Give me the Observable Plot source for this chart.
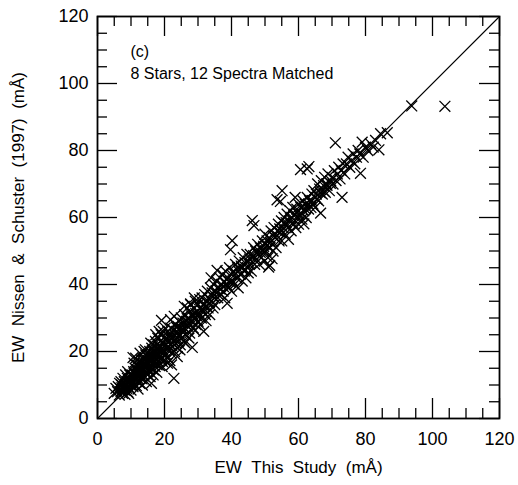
<!DOCTYPE html>
<html><head><meta charset="utf-8">
<script src="https://cdn.jsdelivr.net/npm/d3@7"></script>
<script src="https://cdn.jsdelivr.net/npm/@observablehq/plot@0.6"></script>
<style>body{margin:0;background:#fff}</style>
</head><body><div id="chart"></div>
<script>
// [EW this study, EW Nissen & Schuster 1997] in mÅ
const ewPairs = [
[5,7.5],[6,8],[6.5,7],[6.8,9],[7,8],[7.2,10],[7.5,7.5],[7.8,9],[8,8.5],[8,11],[8.2,7.2],[8.5,10],[8.7,9],[8.9,12],[9,8],[9.2,10.5],[9.4,11],[9.5,9],[9.6,13],[9.8,10],[10,8.5],[10,12],[6.2,9.5],[7,11],[7.6,12],[8.4,13],[9,14],[9.3,7.5],[5.5,9],[6.6,10.5],[7.4,8.5],[8.1,9.5],[8.8,10.8],[9.7,11.5],[10.6,18.2],
[10.2,10],[10.3,13],[10.5,11],[10.6,9.5],[10.8,14],[11,12],[11,10],[11.2,15],[11.3,11.5],[11.5,13],[11.6,9.8],[11.8,16],[12,12],[12,14.5],[12.2,11],[12.3,17],[12.5,13],[12.6,10.5],[12.8,15],[13,14],[13,12],[13.2,16.5],[13.3,11.8],[13.5,15],[13.6,13],[13.8,18],[14,14.5],[14,12.5],[14.2,16],[14.4,19],[14.5,13.5],[14.6,11],[14.8,17],[15,15],[15,13],[11.4,18],[12.7,19.5],[13.9,20],[12.1,8.8],[13.4,10],[14.3,20.5],[10.9,16.5],[11.9,13.2],[12.4,15.8],[13.1,17.5],[14.7,15.8],[14.9,18.5],[10.7,12.3],[11.7,14.2],[13.7,16.2],
[11.1,13.6],[12.9,12.8],[13.5,17.8],[14.1,15.2],[15.1,17.4],[16.4,20.2],[17.1,18.4],[17.8,19.6],[18.7,17.8],[19.9,22.4],[15.8,15.2],[16.9,16.6],[18.1,20.7],[19.4,20.9],[12.2,13.4],[10.1,11.4],[8.3,10.2],[9.1,9.6],[7.3,9.2],
[15.2,16],[15.3,18],[15.5,14],[15.6,20],[15.8,17],[16,15],[16,19],[16.1,10.5],[16.2,21],[16.4,16.5],[16.5,18.5],[16.7,14.5],[16.8,22],[17,17],[17,20],[17.2,15.5],[17.3,23],[17.5,18],[17.6,21],[17.8,16],[18,19],[18,24],[18.2,17],[18.3,21.5],[18.5,15.8],[18.6,20],[18.8,23],[19,18],[19,25],[19.1,29.3],[19.2,21],[19.4,17],[19.5,22.5],[19.7,19.5],[19.8,24],[20,20],[20,17.5],[15.7,12.5],[16.6,13],[17.4,25],[18.4,26],[15.9,22.5],[16.9,19.3],[17.9,22.3],[18.9,19.8],[19.6,26],[15.4,19],[16.3,17.6],[17.7,13.8],[19.3,15.5],
[20.3,22],[20.5,19],[20.6,24],[20.8,21],[21,26],[21,18],[21.2,23],[21.4,20.5],[21.5,25],[21.7,22],[21.9,27],[22,19.5],[22.2,24],[22.4,21.5],[22.5,26.5],[22.7,23],[22.8,12],[23,20],[23,25],[23.2,28],[23.4,22.5],[23.5,26],[23.7,24],[23.9,21],[24,27.5],[24.2,23],[24.4,29],[24.5,25],[24.7,22],[24.9,27],[25,24],[25,30],[20.2,27],[21.8,29.5],[22.9,30.5],[23.8,18.5],[24.6,20.5],[20.9,16.5],[21.6,17.3],[22.1,16],
[20.6,20.8],[21.3,24.4],[22.3,22.6],[23.1,23.6],[24.1,25.6],[25.6,26.6],[26.6,27.8],[27.1,28.8],[28.1,30.6],[29.3,31.4],[30.9,32.4],[31.6,33.8],[32.6,33.4],[33.4,34.6],[34.4,36.4],[35.6,37.4],[36.6,38.6],[37.6,39.4],[38.6,41.4],[39.6,40.6],[21.1,21.6],[23.6,27.2],[26.8,29.8],[30.2,30.8],
[25.3,26],[25.5,28.5],[25.7,23],[26,27],[26,31],[26.3,25],[26.5,29],[26.8,33],[27,27.5],[27.2,30],[27.5,25.5],[27.6,32],[27.8,34],[28,29],[28.3,21.2],[28.4,31],[28.6,27],[28.8,33],[29,30],[29.2,35],[29.4,28],[29.6,32],[29.8,30.5],[30,34],[30,29],[26.2,22.5],[27.3,24],[29.1,26.2],[25.9,33.5],[28.9,36],
[30.3,31.5],[30.5,35.5],[30.8,33],[31,30],[31.2,36],[31.5,32],[31.7,26],[31.8,34],[32,37],[32.2,31],[32.5,35],[32.8,38],[33,33],[33.2,36],[33.5,31],[33.7,39],[34,35],[34.2,37.5],[34.5,33],[34.7,40],[35,36],[35,34],[30.6,28],[32.4,29.2],[33.9,42],[27.8,34.2],
[35.3,38],[35.5,41],[35.7,44.2],[35.9,36],[36.2,39],[36.5,42],[36.8,37],[37,40],[37.3,43],[37.5,38],[37.8,41],[38,36],[38.2,44],[38.5,40],[38.7,34.4],[38.9,42],[39.2,39],[39.4,45],[39.7,50.4],[39.8,41],[40,43],[40,38],
[40.2,53.1],[40.4,41],[40.6,44],[40.9,40],[41.2,46],[41.5,42],[41.8,45],[42,39],[42.3,47],[42.6,43],[42.9,45.5],[43.2,41],[43.5,48],[43.8,44],[44,46.5],[44.3,42],[44.6,49],[44.8,45],[45,47],[45,43.5],
[41,43],[42.1,44],[43.1,45],[44.1,44.4],[45.4,47.6],[46.6,48.6],[47.6,49.4],[48.6,49.6],[49.6,51.4],[50.6,51.6],[51.6,52.6],[52.6,54.4],[53.6,54.6],[54.4,56.6],[55.6,58.4],[56.6,57.6],[57.6,59.6],[58.6,60.6],[59.6,61.4],[61,61],[62,62.6],[63,64],[64,65],[65.5,65.5],[66.5,67.4],[67.5,68],[68.5,69.6],[69.5,70.2],
[45.3,46],[45.6,49],[45.9,44],[46.2,59.1],[46.7,57.6],[46.3,48],[46.6,51],[46.9,46],[47.2,50],[47.5,47.5],[47.8,52],[48,49],[48.3,46],[48.6,51],[48.9,48],[49.2,53],[49.5,50],[49.8,47],[50,52],[50,55],
[50.3,50],[50.6,53],[50.9,48],[51.1,45.2],[51.4,45.7],[52.1,47.7],[51.2,54],[51.5,51],[51.8,56],[52,53],[52.4,50],[52.7,57],[53,54],[53.3,51],[53.6,65.3],[53.7,56],[54,58],[54.2,53],[54.6,64.8],[54.6,55.5],[54.9,59],[55,56],[55.1,68],[55,53],
[55.4,57],[55.7,60],[56,55],[56.3,58.5],[56.6,61],[56.9,57],[57.2,59],[57.5,62],[57.8,56],[58,60],[58.3,63],[58.6,58],[58.9,61],[59.2,57],[59.5,62.5],[59.8,60],[60,64],[60,58],[57,53.5],[59,66],
[60.3,61],[60.6,74.3],[60.7,63],[61,59.5],[61.3,65],[61.6,58.1],[61.6,62],[62,64],[62.3,60],[62.6,74.5],[62.6,66],[63,62.5],[63.1,75.2],[63.3,65],[63.7,63],[64,67],[64.3,64],[64.6,68],[65,66],[65,63],
[65.3,67],[65.7,70],[66,65],[66.3,68.5],[66.6,61.3],[66.8,71],[67.1,67],[67.5,69.5],[67.8,72],[68,67.5],[68.4,70],[68.8,73],[69.2,68],[69.6,71],[70,72],
[70.3,70],[70.7,74],[71,82.3],[71.2,71],[71.6,73],[72,75],[72.4,71.5],[72.8,74],[73,66],[73.3,76],[73.8,73],[74.3,76],[74.8,78],
[75.3,75],[75.8,77],[76.3,79],[76.8,76],[77.3,78],[77.8,80],[78.5,73.2],[78.3,79],[79,82.5],[79.3,78],[80,81],
[80.7,80],[81.5,82],[82.3,81],[83,83],[84,80.2],[84.5,85],[86.5,85.3],
[93.8,93.3],[103.7,93.2]
];
const majorTicks = [0, 20, 40, 60, 80, 100, 120];
const minorTicks = [5, 10, 15, 25, 30, 35, 45, 50, 55, 65, 70, 75, 85, 90, 95, 105, 110, 115];
const oneToOne = [0, 120];
const panelLabel = "(c)";
const panelNote = "8 Stars, 12 Spectra Matched";
const xTitle = "EW  This  Study  (mÅ)";
const yTitle = "EW  Nissen  &  Schuster  (1997)  (mÅ)";

const W = 518, H = 485, mL = 97, mR = 19, mT = 16, mB = 67;
const fh = H - mT - mB, fw = W - mL - mR;
const majorLen = 20, minorLen = 10;
const nb = s => s.replace(/ /g, "\u00a0");
const points = ewPairs.map(([x, y]) => ({x, y}));
const diag = oneToOne.map(v => ({x: v, y: v}));
const tickStyle = {stroke: "#000", strokeWidth: 1.3};

const chart = Plot.plot({
  width: W, height: H,
  marginLeft: mL, marginRight: mR, marginTop: mT, marginBottom: mB,
  style: {fontFamily: "'Liberation Sans', Arial, Helvetica, sans-serif", background: "#fff", color: "#000"},
  x: {domain: [0, 120]},
  y: {domain: [0, 120]},
  marks: [
    Plot.tickX(majorTicks, {x: d => d, insetTop: fh - majorLen, ...tickStyle}),
    Plot.tickX(majorTicks, {x: d => d, insetBottom: fh - majorLen, ...tickStyle}),
    Plot.tickX(minorTicks, {x: d => d, insetTop: fh - minorLen, ...tickStyle}),
    Plot.tickX(minorTicks, {x: d => d, insetBottom: fh - minorLen, ...tickStyle}),
    Plot.tickY(majorTicks, {y: d => d, insetRight: fw - majorLen, ...tickStyle}),
    Plot.tickY(majorTicks, {y: d => d, insetLeft: fw - majorLen, ...tickStyle}),
    Plot.tickY(minorTicks, {y: d => d, insetRight: fw - minorLen, ...tickStyle}),
    Plot.tickY(minorTicks, {y: d => d, insetLeft: fw - minorLen, ...tickStyle}),
    Plot.axisX({ticks: majorTicks, tickSize: 0, tickPadding: 14, fontSize: 18, label: null}),
    Plot.axisY({ticks: majorTicks, tickSize: 0, tickPadding: 9, fontSize: 18, label: null}),
    Plot.line(diag, {x: "x", y: "y", stroke: "#000", strokeWidth: 1.1}),
    Plot.dot(points, {x: "x", y: "y", symbol: "times", r: 5, stroke: "#000", strokeWidth: 1.3}),
    Plot.frame({stroke: "#000", strokeWidth: 1.8}),
    Plot.text([nb(xTitle)], {text: d => d, frameAnchor: "bottom", dy: 49, fontSize: 17, lineAnchor: "middle", textAnchor: "middle"}),
    Plot.text([nb(yTitle)], {text: d => d, frameAnchor: "left", dx: -79, rotate: -90, fontSize: 17, lineAnchor: "middle", textAnchor: "middle"}),
    Plot.text([panelLabel + "\n" + panelNote], {text: d => d, frameAnchor: "top-left", dx: 33, dy: 25, lineAnchor: "top", textAnchor: "start", fontSize: 16, lineHeight: 1.375})
  ]
});
document.getElementById("chart").appendChild(chart);
</script>
</body></html>
